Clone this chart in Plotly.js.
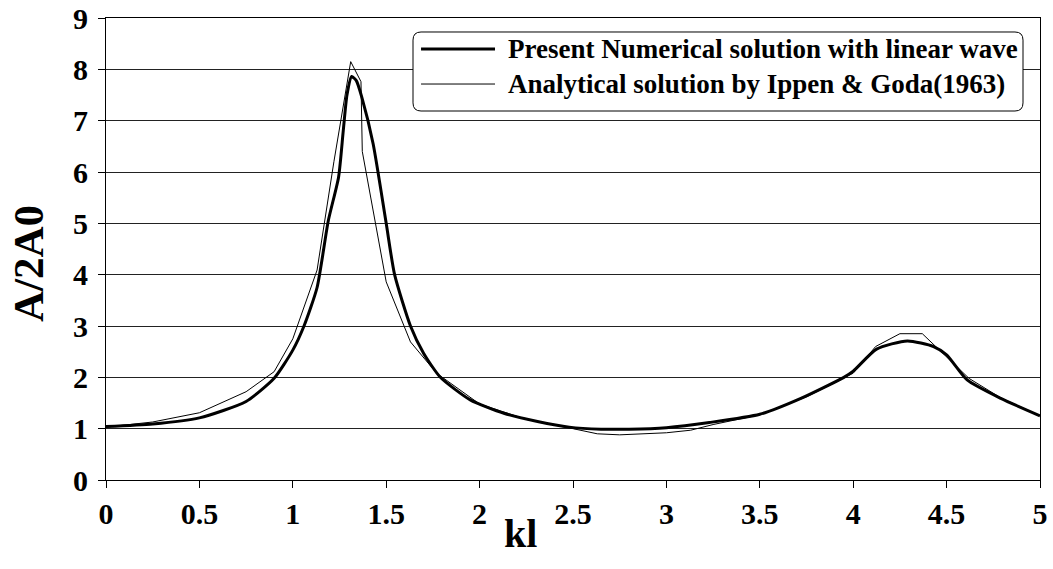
<!DOCTYPE html>
<html>
<head>
<meta charset="utf-8">
<script src="https://cdn.plot.ly/plotly-3.0.1.min.js"></script>
<style>
html,body{margin:0;padding:0;background:#fff;}
#chart{width:1053px;height:569px;}
</style>
</head>
<body>
<div id="chart"></div>
<script>
// Present numerical solution with linear wave
var numKl = [0, 0.25, 0.5, 0.75, 0.9, 1.0, 1.06, 1.13, 1.19, 1.245, 1.27, 1.29, 1.315, 1.34, 1.37, 1.43, 1.50, 1.545, 1.63, 1.70, 1.79, 1.95, 2.13, 2.31, 2.48, 2.65, 2.80, 3.0, 3.23, 3.5, 3.72, 3.95, 4.0, 4.125, 4.29, 4.43, 4.5, 4.61, 4.79, 5.0];
var numA  = [1.04, 1.09, 1.21, 1.53, 1.98, 2.53, 3.0, 3.75, 5.05, 5.9, 6.8, 7.5, 7.86, 7.78, 7.45, 6.55, 5.0, 4.0, 3.0, 2.47, 2.0, 1.56, 1.30, 1.14, 1.03, 0.99, 0.99, 1.02, 1.12, 1.28, 1.59, 2.0, 2.12, 2.55, 2.71, 2.60, 2.44, 1.95, 1.59, 1.25];

// Analytical solution by Ippen & Goda (1963)
var anaKl = [0, 0.25, 0.5, 0.75, 0.9, 1.0, 1.13, 1.22, 1.31, 1.365, 1.372, 1.5, 1.63, 1.77, 2.0, 2.25, 2.5, 2.63, 2.75, 3.0, 3.13, 3.25, 3.5, 3.75, 4.0, 4.12, 4.25, 4.37, 4.62, 4.79, 5.0];
var anaA  = [1.03, 1.13, 1.31, 1.72, 2.11, 2.75, 4.09, 6.2, 8.15, 7.76, 6.40, 3.86, 2.69, 2.08, 1.48, 1.18, 1.0, 0.90, 0.88, 0.92, 0.97, 1.08, 1.27, 1.62, 2.08, 2.60, 2.85, 2.85, 1.98, 1.60, 1.25];

var xTicks = [0, 0.5, 1, 1.5, 2, 2.5, 3, 3.5, 4, 4.5, 5];
var xTickText = ['0', '0.5', '1', '1.5', '2', '2.5', '3', '3.5', '4', '4.5', '5'];
var yTicks = [0, 1, 2, 3, 4, 5, 6, 7, 8, 9];

var seriesNames = ['Present Numerical solution with linear wave', 'Analytical solution by Ippen & Goda(1963)'];
var xTitle = 'kl';
var yTitle = 'A/2A0';

var FONT = '"Liberation Serif", "Times New Roman", serif';

var traces = [
  {x: anaKl, y: anaA, type: 'scatter', mode: 'lines', name: seriesNames[1],
   line: {color: '#000', width: 1}, showlegend: false, hoverinfo: 'x+y'},
  {x: numKl, y: numA, type: 'scatter', mode: 'lines', name: seriesNames[0],
   line: {color: '#000', width: 3, shape: 'spline', smoothing: 0.6}, showlegend: false, hoverinfo: 'x+y'}
];

// manual legend (rounded box, long line samples)
var L = {x0: 0.3287, x1: 0.9818, y0: 0.7987, y1: 0.9697, rx: 0.0086, ry: 0.0175};
var roundPath = 'M' + (L.x0 + L.rx) + ',' + L.y1 +
  ' L' + (L.x1 - L.rx) + ',' + L.y1 +
  ' Q' + L.x1 + ',' + L.y1 + ' ' + L.x1 + ',' + (L.y1 - L.ry) +
  ' L' + L.x1 + ',' + (L.y0 + L.ry) +
  ' Q' + L.x1 + ',' + L.y0 + ' ' + (L.x1 - L.rx) + ',' + L.y0 +
  ' L' + (L.x0 + L.rx) + ',' + L.y0 +
  ' Q' + L.x0 + ',' + L.y0 + ' ' + L.x0 + ',' + (L.y0 + L.ry) +
  ' L' + L.x0 + ',' + (L.y1 - L.ry) +
  ' Q' + L.x0 + ',' + L.y1 + ' ' + (L.x0 + L.rx) + ',' + L.y1 + ' Z';

var rowY = [0.9329, 0.8571];
var sampleX = [0.3373, 0.4165];
var textX = 0.4283;

var layout = {
  width: 1053, height: 569,
  margin: {l: 106, r: 13, t: 18, b: 89, pad: 0},
  paper_bgcolor: '#fff', plot_bgcolor: '#fff',
  font: {family: FONT, color: '#000', size: 30},
  showlegend: false,
  xaxis: {
    range: [0, 5], tickvals: xTicks, ticktext: xTickText,
    showgrid: false, zeroline: false,
    showline: true, linecolor: '#000', linewidth: 1, mirror: true,
    ticks: 'outside', ticklen: 7, tickwidth: 1, tickcolor: '#000',
    tickfont: {family: FONT, size: 30, weight: 'bold', color: '#000'},
    title: {text: ''},
    automargin: false, fixedrange: true
  },
  yaxis: {
    range: [0, 9], tickvals: yTicks,
    showgrid: true, gridcolor: '#222', gridwidth: 1, zeroline: false,
    showline: true, linecolor: '#000', linewidth: 1, mirror: true,
    ticks: 'outside', ticklen: 7, tickwidth: 1, tickcolor: '#000',
    ticklabelstandoff: 4,
    tickfont: {family: FONT, size: 30, weight: 'bold', color: '#000'},
    title: {text: ''},
    automargin: false, fixedrange: true
  },
  shapes: [
    {type: 'path', xref: 'paper', yref: 'paper', path: roundPath,
     fillcolor: '#fff', line: {color: '#000', width: 1}, layer: 'above'},
    {type: 'line', xref: 'paper', yref: 'paper', x0: sampleX[0], x1: sampleX[1], y0: rowY[0], y1: rowY[0],
     line: {color: '#000', width: 3}, layer: 'above'},
    {type: 'line', xref: 'paper', yref: 'paper', x0: sampleX[0], x1: sampleX[1], y0: rowY[1], y1: rowY[1],
     line: {color: '#000', width: 1}, layer: 'above'}
  ],
  annotations: [
    {xref: 'paper', yref: 'paper', x: textX, y: rowY[0], xanchor: 'left', yanchor: 'middle',
     text: '<b>' + seriesNames[0] + '</b>', showarrow: false,
     font: {family: FONT, size: 27, color: '#000'}},
    {xref: 'paper', yref: 'paper', x: textX, y: rowY[1], xanchor: 'left', yanchor: 'middle',
     text: '<b>' + seriesNames[1].replace('&', '&amp;') + '</b>', showarrow: false,
     font: {family: FONT, size: 27, color: '#000'}},
    {xref: 'paper', yref: 'paper', x: 0.4433, y: -0.116, xanchor: 'center', yanchor: 'middle',
     text: '<b>' + xTitle + '</b>', showarrow: false,
     font: {family: FONT, size: 40, color: '#000'}},
    {xref: 'paper', yref: 'paper', x: -0.0835, y: 0.4675, xanchor: 'center', yanchor: 'middle',
     textangle: -90, text: '<b>' + yTitle + '</b>', showarrow: false,
     font: {family: FONT, size: 43, color: '#000'}}
  ]
};

Plotly.newPlot('chart', traces, layout, {displayModeBar: false, staticPlot: true});
</script>
</body>
</html>
